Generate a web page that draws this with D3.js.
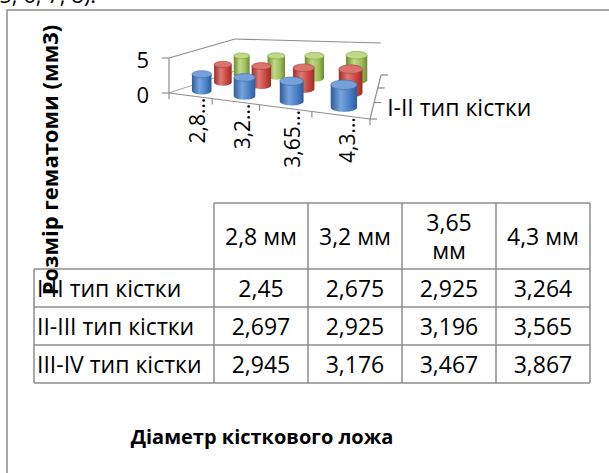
<!DOCTYPE html>
<html>
<head>
<meta charset="utf-8">
<script src="https://cdn.jsdelivr.net/npm/d3@7/dist/d3.min.js"></script>
<style>
  html, body { margin: 0; padding: 0; background: #fff; }
  svg { display: block; }
  text { font-family: "Open Sans", "Noto Sans", sans-serif; fill: #000; }
</style>
</head>
<body>
<svg id="chart" width="609" height="473"></svg>
<script>
// Hematoma size by bone-bed diameter and bone type
const categories = ["2,8 мм", "3,2 мм", "3,65 мм", "4,3 мм"];
const seriesNames = ["I-II тип кістки", "II-III тип кістки", "III-IV тип кістки"];
const seriesI_II = [2.45, 2.675, 2.925, 3.264];
const seriesII_III = [2.697, 2.925, 3.196, 3.565];
const seriesIII_IV = [2.945, 3.176, 3.467, 3.867];
const seriesValues = [seriesI_II, seriesII_III, seriesIII_IV];
const yTicks = [0, 5];
const yTitle = "Розмір гематоми (мм3)";
const xTitle = "Діаметр кісткового ложа";
const precedingText = "5, 6, 7, 8).";

const svg = d3.select("#chart");
const labelSize = "23px";

// end of the paragraph above, cut by the top edge
svg.append("text").attr("x", 96).attr("y", 3).attr("text-anchor", "end")
  .style("font-size", "22px").text(precedingText);

// chart area frame
svg.append("rect").attr("x", 7).attr("y", 10).attr("width", 700).attr("height", 600)
  .attr("fill", "none").attr("stroke", "#8c8c8c").attr("stroke-width", 1.5);

// ---- 3D plot geometry: floor quadrilateral, wall heights, foreshortening ----
const FL = [169, 93], FR = [370, 119], BR = [381, 75], BL = [235, 71];
const wallFront = 35, wallBack = 32;
const kU = 0.22, kD = 0.2;
const uPersp = u => u / (1 + kU * (1 - u));
const dPersp = d => d * (1 + kD) / (1 + kD * d);

const xBand = d3.scaleBand().domain(categories).range([0, 1]);
const zBand = d3.scaleBand().domain(seriesNames).range([0, 1]);
const yScale = d3.scaleLinear().domain([0, 5]).range([0, 1]);

function floorPt(u0, d0) {
  const u = uPersp(u0), d = dPersp(d0);
  const fx = FL[0] + (FR[0] - FL[0]) * u, fy = FL[1] + (FR[1] - FL[1]) * u;
  const bx = BL[0] + (BR[0] - BL[0]) * u, by = BL[1] + (BR[1] - BL[1]) * u;
  return [fx + (bx - fx) * d, fy + (by - fy) * d];
}
function project(u, d, v) {
  const p = floorPt(u, d);
  const h = wallFront + (wallBack - wallFront) * dPersp(d);
  return [p[0], p[1] - yScale(v) * h];
}

const axisColor = "#8c8c8c";
const g3 = svg.append("g");
const line = (a, b, w) => g3.append("line")
  .attr("x1", a[0]).attr("y1", a[1]).attr("x2", b[0]).attr("y2", b[1])
  .attr("stroke", axisColor).attr("stroke-width", w || 1.2);

// walls: left wall front edge (value axis), top edges, floor edges
const yMax = yScale.domain()[1];
line(project(0, 0, 0), project(0, 0, yMax));
line(project(0, 0, yMax), project(0, 1, yMax));
line(project(0, 1, yMax), project(1, 1, yMax));
line(project(0, 0, 0), project(0, 1, 0), 0.8);
line(project(0, 0, 0), project(1, 0, 0));   // category axis
line(project(1, 0, 0), project(1, 1, 0));   // series axis

// value axis ticks and labels
yTicks.forEach(t => {
  const p = project(0, 0, t);
  line([p[0] - 7, p[1]], p);
  svg.append("text").attr("x", p[0] - 20).attr("y", p[1] + 1)
    .attr("text-anchor", "end").attr("dominant-baseline", "central")
    .style("font-size", "22px").text(d3.format("d")(t));
});

// category axis ticks and truncated rotated labels
const bw = xBand.bandwidth();
d3.range(categories.length + 1).forEach(i => {
  const p = project(i * bw, 0, 0);
  line(p, [p[0], p[1] + 6]);
});
categories.forEach(c => {
  const p = project(xBand(c) + bw / 2, 0, 0);
  const label = c.split(" ")[0] + "…";
  svg.append("text")
    .attr("transform", `translate(${p[0] + 7},${p[1] + 2}) rotate(-90)`)
    .attr("text-anchor", "end").attr("dominant-baseline", "central")
    .style("font-size", "21px").text(label);
});

// series axis ticks and the first series label
const zw = zBand.bandwidth();
d3.range(seriesNames.length + 1).forEach(i => {
  const p = project(1, i * zw, 0);
  line(p, [p[0] + 7, p[1]]);
});
{
  const p = project(1, zBand(seriesNames[0]) + zw / 2, 0);
  svg.append("text").attr("x", p[0] + 15).attr("y", p[1] - 3)
    .attr("dominant-baseline", "central")
    .style("font-size", labelSize).text(seriesNames[0]);
}

// ---- cylinders ----
const palette = [
  { edge: "#2d5c9a", mid: "#4a80c6", hi: "#78a4dd", top: "#76a0d8", rim: "#3c6cad" },
  { edge: "#9a2d28", mid: "#c9463f", hi: "#de7a74", top: "#da736d", rim: "#ab3c37" },
  { edge: "#6c8a30", mid: "#9fc05c", hi: "#c1da88", top: "#c0d985", rim: "#83a143" }
];
const defs = svg.append("defs");
palette.forEach((c, i) => {
  const gr = defs.append("linearGradient").attr("id", "body" + i)
    .attr("x1", "0").attr("x2", "1").attr("y1", "0").attr("y2", "0");
  gr.append("stop").attr("offset", "0").attr("stop-color", c.edge);
  gr.append("stop").attr("offset", "0.38").attr("stop-color", c.hi);
  gr.append("stop").attr("offset", "0.72").attr("stop-color", c.mid);
  gr.append("stop").attr("offset", "1").attr("stop-color", c.edge);
});

const cylDiam = 0.48;   // share of category band
const gCyl = svg.append("g");
// back series first so nearer cylinders cover them
for (let s = seriesNames.length - 1; s >= 0; s--) {
  const d = zBand(seriesNames[s]) + zw / 2;
  categories.forEach((c, i) => {
    const u = xBand(c) + bw / 2;
    const v = seriesValues[s][i];
    const base = project(u, d, 0);
    const top = project(u, d, v);
    const l = floorPt(u - bw * cylDiam / 2, d), r = floorPt(u + bw * cylDiam / 2, d);
    const rx = (r[0] - l[0]) / 2, ry = rx * 0.36;
    const x0 = base[0] - rx, x1 = base[0] + rx;
    gCyl.append("path")
      .attr("d", `M${x0},${top[1]} L${x0},${base[1]} A${rx},${ry} 0 0 0 ${x1},${base[1]} L${x1},${top[1]} Z`)
      .attr("fill", `url(#body${s})`);
    gCyl.append("ellipse")
      .attr("cx", top[0]).attr("cy", top[1]).attr("rx", rx).attr("ry", ry)
      .attr("fill", palette[s].top).attr("stroke", palette[s].rim).attr("stroke-width", 0.6);
  });
}

// ---- axis titles ----
svg.append("text")
  .attr("transform", "translate(58,160) rotate(-90)")
  .attr("text-anchor", "middle")
  .style("font-size", "22px").style("font-weight", "bold").text(yTitle);

svg.append("text").attr("x", 262).attr("y", 436)
  .attr("text-anchor", "middle").attr("dominant-baseline", "central")
  .style("font-size", "20px").style("font-weight", "bold").text(xTitle);

// ---- data table ----
const tbl = svg.append("g");
const rowHeadX = 34, colX0 = 214, colX1 = 590;
const headTop = 203, headBottom = 269, rowH = 38;
const colBand = d3.scaleBand().domain(categories).range([colX0, colX1]);
const rowBand = d3.scaleBand().domain(seriesNames)
  .range([headBottom, headBottom + rowH * seriesNames.length]);
const gridColor = "#8c8c8c";
const tl = (x1, y1, x2, y2) => tbl.append("line")
  .attr("x1", x1).attr("y1", y1).attr("x2", x2).attr("y2", y2)
  .attr("stroke", gridColor).attr("stroke-width", 1.5);

const tableBottom = rowBand.range()[1];
tl(colX0, headTop, colX1, headTop);
seriesNames.forEach(n => tl(rowHeadX, rowBand(n), colX1, rowBand(n)));
tl(rowHeadX, tableBottom, colX1, tableBottom);
tl(rowHeadX, headBottom, rowHeadX, tableBottom);
categories.forEach(c => tl(colBand(c), headTop, colBand(c), tableBottom));
tl(colX1, headTop, colX1, tableBottom);

// header cells, wrapped onto separate lines when the text does not fit
categories.forEach(c => {
  const cx = colBand(c) + colBand.bandwidth() / 2;
  const cy = (headTop + headBottom) / 2;
  const t = tbl.append("text").attr("x", cx).attr("y", cy)
    .attr("text-anchor", "middle").attr("dominant-baseline", "central")
    .style("font-size", labelSize).text(c);
  if (t.node().getComputedTextLength() > colBand.bandwidth() - 12) {
    const words = c.split(" ");
    t.remove();
    words.forEach((w, k) => tbl.append("text").attr("x", cx)
      .attr("y", cy + (k - (words.length - 1) / 2) * 28)
      .attr("text-anchor", "middle").attr("dominant-baseline", "central")
      .style("font-size", labelSize).text(w));
  }
});
// row headers and values
const fmt = v => String(v).replace(".", ",");
seriesNames.forEach((n, s) => {
  const cy = rowBand(n) + rowBand.bandwidth() / 2;
  tbl.append("text").attr("x", rowHeadX + 3).attr("y", cy)
    .attr("dominant-baseline", "central").style("font-size", labelSize).text(n);
  categories.forEach((c, i) => {
    tbl.append("text").attr("x", colBand(c) + colBand.bandwidth() / 2).attr("y", cy)
      .attr("text-anchor", "middle").attr("dominant-baseline", "central")
      .style("font-size", labelSize).text(fmt(seriesValues[s][i]));
  });
});
</script>
</body>
</html>
